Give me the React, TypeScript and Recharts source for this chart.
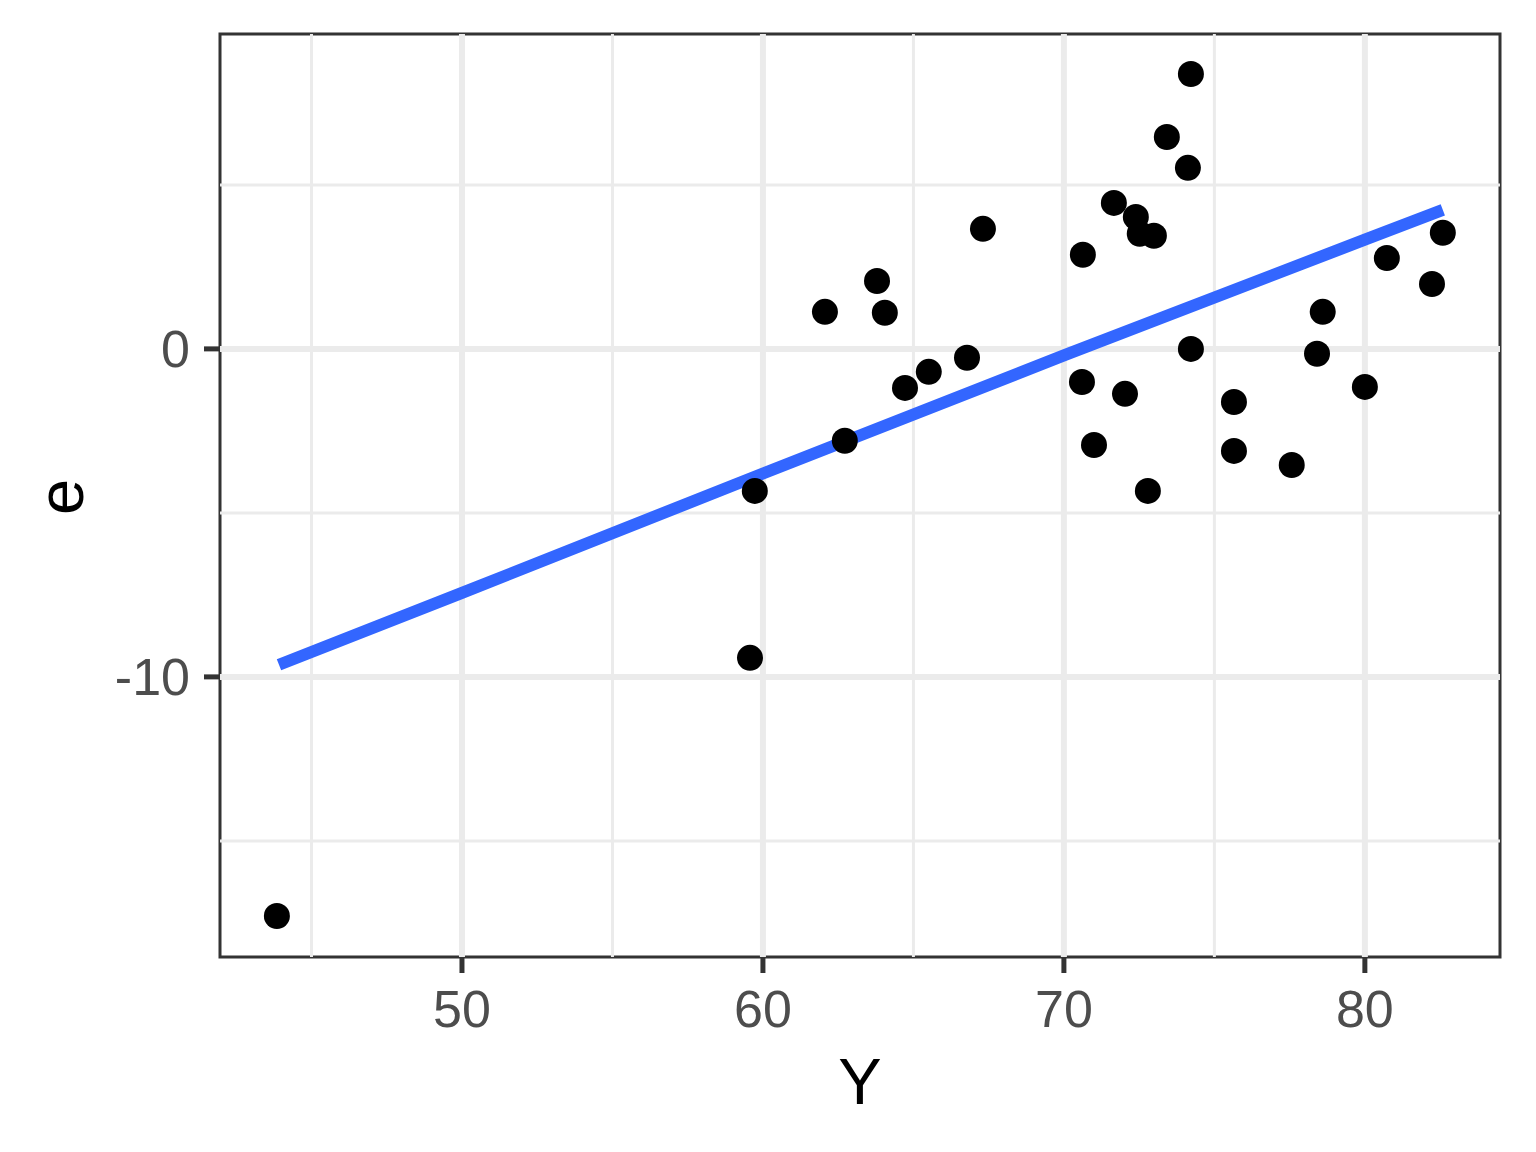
import React from 'react';
import {
  ComposedChart,
  Scatter,
  Line,
  XAxis,
  YAxis,
  ReferenceLine,
  ReferenceArea,
} from 'recharts';

// Observations (Y, e)
const yValues = [
  43.85, 59.57, 59.73, 62.06, 62.72, 63.79, 64.05, 64.72, 65.51, 66.78, 67.31,
  70.6, 70.63, 71.0, 71.66, 72.03, 72.39, 72.52, 72.99, 72.79, 73.42, 74.22,
  74.12, 74.22, 75.65, 75.65, 77.57, 78.41, 78.6, 80.0, 80.73, 82.23, 82.59,
];
const eValues = [
  -17.29, -9.42, -4.33, 1.13, -2.8, 2.07, 1.1, -1.19, -0.7, -0.27, 3.66,
  -1.01, 2.87, -2.93, 4.45, -1.37, 4.02, 3.51, 3.45, -4.33, 6.46, 8.38,
  5.52, 0.0, -1.62, -3.11, -3.54, -0.15, 1.13, -1.16, 2.77, 1.98, 3.54,
];

// Smooth line
const fitX = [43.92, 50, 60, 70, 80, 82.59];
const fitE = [-9.63, -7.44, -3.8, -0.2, 3.33, 4.24];

const xTicks = [50, 60, 70, 80];
const xMinor = [45, 55, 65, 75];
const yTicks = [-10, 0];
const yMinor = [-15, -5, 5];

const xDomain = [41.96, 84.49];
const yDomain = [-18.54, 9.6];

const points = yValues.map((y, i) => ({ x: y, e: eValues[i] }));
const fit = fitX.map((x, i) => ({ x, e: fitE[i] }));

const FONT = '"Liberation Sans", Arial, Helvetica, sans-serif';

const Dot = (props: any) => {
  const { cx, cy } = props;
  if (cx == null || cy == null) return null;
  return <circle cx={cx} cy={cy} r={13} fill="#000000" />;
};

const YTitle = () => (
  <text
    transform="translate(83, 497) rotate(-90)"
    x={0}
    y={0}
    textAnchor="middle"
    fontSize={65}
    fontFamily={FONT}
    fill="#000000"
  >
    e
  </text>
);

const XTitle = (props: any) => {
  const vb = props.viewBox || {};
  const cx = (vb.x ?? 220) + (vb.width ?? 1280) / 2;
  return (
    <text
      x={cx}
      y={1104}
      textAnchor="middle"
      fontSize={65}
      fontFamily={FONT}
      fill="#000000"
    >
      Y
    </text>
  );
};

export default function App() {
  return (
    <div style={{ position: 'absolute', left: 0, top: 0, width: 1536, height: 1152, background: '#ffffff' }}>
      <ComposedChart
        width={1536}
        height={1152}
        margin={{ top: 34, right: 36, bottom: 0, left: 0 }}
      >
        <XAxis
          type="number"
          dataKey="x"
          domain={xDomain}
          allowDataOverflow
          ticks={xTicks}
          interval={0}
          height={195}
          axisLine={false}
          tickSize={16}
          tickMargin={17}
          tickLine={{ stroke: '#333333', strokeWidth: 5 }}
          tick={{ fill: '#4D4D4D', fontSize: 52, fontFamily: FONT }}
          label={<XTitle />}
        />
        <YAxis
          type="number"
          dataKey="e"
          domain={yDomain}
          allowDataOverflow
          ticks={yTicks}
          interval={0}
          width={220}
          axisLine={false}
          tickSize={16}
          tickMargin={14}
          tickLine={{ stroke: '#333333', strokeWidth: 5 }}
          tick={{ fill: '#4D4D4D', fontSize: 52, fontFamily: FONT }}
          label={<YTitle />}
        />
        {xMinor.map((v) => (
          <ReferenceLine key={'xm' + v} x={v} stroke="#EBEBEB" strokeWidth={3} />
        ))}
        {yMinor.map((v) => (
          <ReferenceLine key={'ym' + v} y={v} stroke="#EBEBEB" strokeWidth={3} />
        ))}
        {xTicks.map((v) => (
          <ReferenceLine key={'xM' + v} x={v} stroke="#EBEBEB" strokeWidth={6} />
        ))}
        {yTicks.map((v) => (
          <ReferenceLine key={'yM' + v} y={v} stroke="#EBEBEB" strokeWidth={6} />
        ))}
        <Scatter data={points} dataKey="e" shape={<Dot />} isAnimationActive={false} />
        <Line
          data={fit}
          dataKey="e"
          type="linear"
          stroke="#3366FF"
          strokeWidth={12}
          dot={false}
          activeDot={false}
          isAnimationActive={false}
        />
        <ReferenceArea
          x1={xDomain[0]}
          x2={xDomain[1]}
          y1={yDomain[0]}
          y2={yDomain[1]}
          fill="none"
          fillOpacity={0}
          stroke="#333333"
          strokeWidth={3}
          ifOverflow="visible"
        />
      </ComposedChart>
    </div>
  );
}
